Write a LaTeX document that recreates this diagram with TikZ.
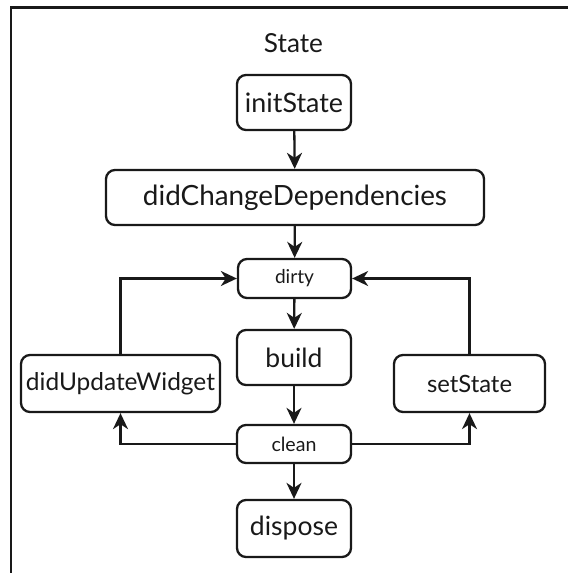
\documentclass[tikz,border=0pt]{standalone}
\usepackage{graphicx}
\usepackage{fontspec}
\setmainfont{Lato}
\usetikzlibrary{arrows.meta}
\tikzset{
  stbox/.style={draw=black!90, line width=2.3pt, rounded corners=9pt,
    inner sep=0pt, align=center, text=black!90},
  flow/.style={draw=black!90, line width=2.3pt,
    -{Stealth[length=16pt,width=15pt,inset=5pt]}},
  frame/.style={draw=black!90, line width=2.6pt}
}
% label scaled to a given width
\newcommand{\fitw}[2]{\resizebox{#1}{!}{#2}}
\begin{document}
\begin{tikzpicture}[x=1pt,y=1pt]
  \useasboundingbox (0,0) rectangle (568,-573);
  % enclosing frame (top and left edges)
  \draw[frame] (11,-573) -- (11,-7.5) -- (568,-7.5);

  \node[text=black!90] (title) at (293.5,-43) {\fitw{59pt}{State}};

  \node[stbox, minimum width=114pt, minimum height=55pt] (init) at (294,-102.5) {\fitw{98pt}{initState}};
  \node[stbox, minimum width=378pt, minimum height=55pt] (dcd) at (295,-197.5) {\fitw{304pt}{didChangeDependencies}};
  \node[stbox, minimum width=113pt, minimum height=39pt] (dirty) at (294.5,-278.5) {\fitw{39pt}{dirty}};
  \node[stbox, minimum width=114pt, minimum height=55pt] (build) at (294,-357.5) {\fitw{57pt}{build}};
  \node[stbox, minimum width=199pt, minimum height=57pt] (duw) at (120.5,-383.5) {\fitw{189pt}{didUpdateWidget}};
  \node[stbox, minimum width=151pt, minimum height=57pt] (ss) at (469.5,-383.5) {\fitw{85pt}{setState}};
  \node[stbox, minimum width=114pt, minimum height=38pt] (clean) at (294,-444) {\fitw{45pt}{clean}};
  \node[stbox, minimum width=114pt, minimum height=57pt] (disp) at (294,-528.5) {\fitw{88pt}{dispose}};

  \draw[flow] (init) -- (dcd);
  \draw[flow] (dcd) -- (dirty);
  \draw[flow] (dirty) -- (build);
  \draw[flow] (build) -- (clean);
  \draw[flow] (clean) -- (disp);
  \draw[flow] (duw.north) |- (dirty.west);
  \draw[flow] (ss.north) |- (dirty.east);
  \draw[flow] (clean.west) -| (duw.south);
  \draw[flow] (clean.east) -| (ss.south);
\end{tikzpicture}
\end{document}
